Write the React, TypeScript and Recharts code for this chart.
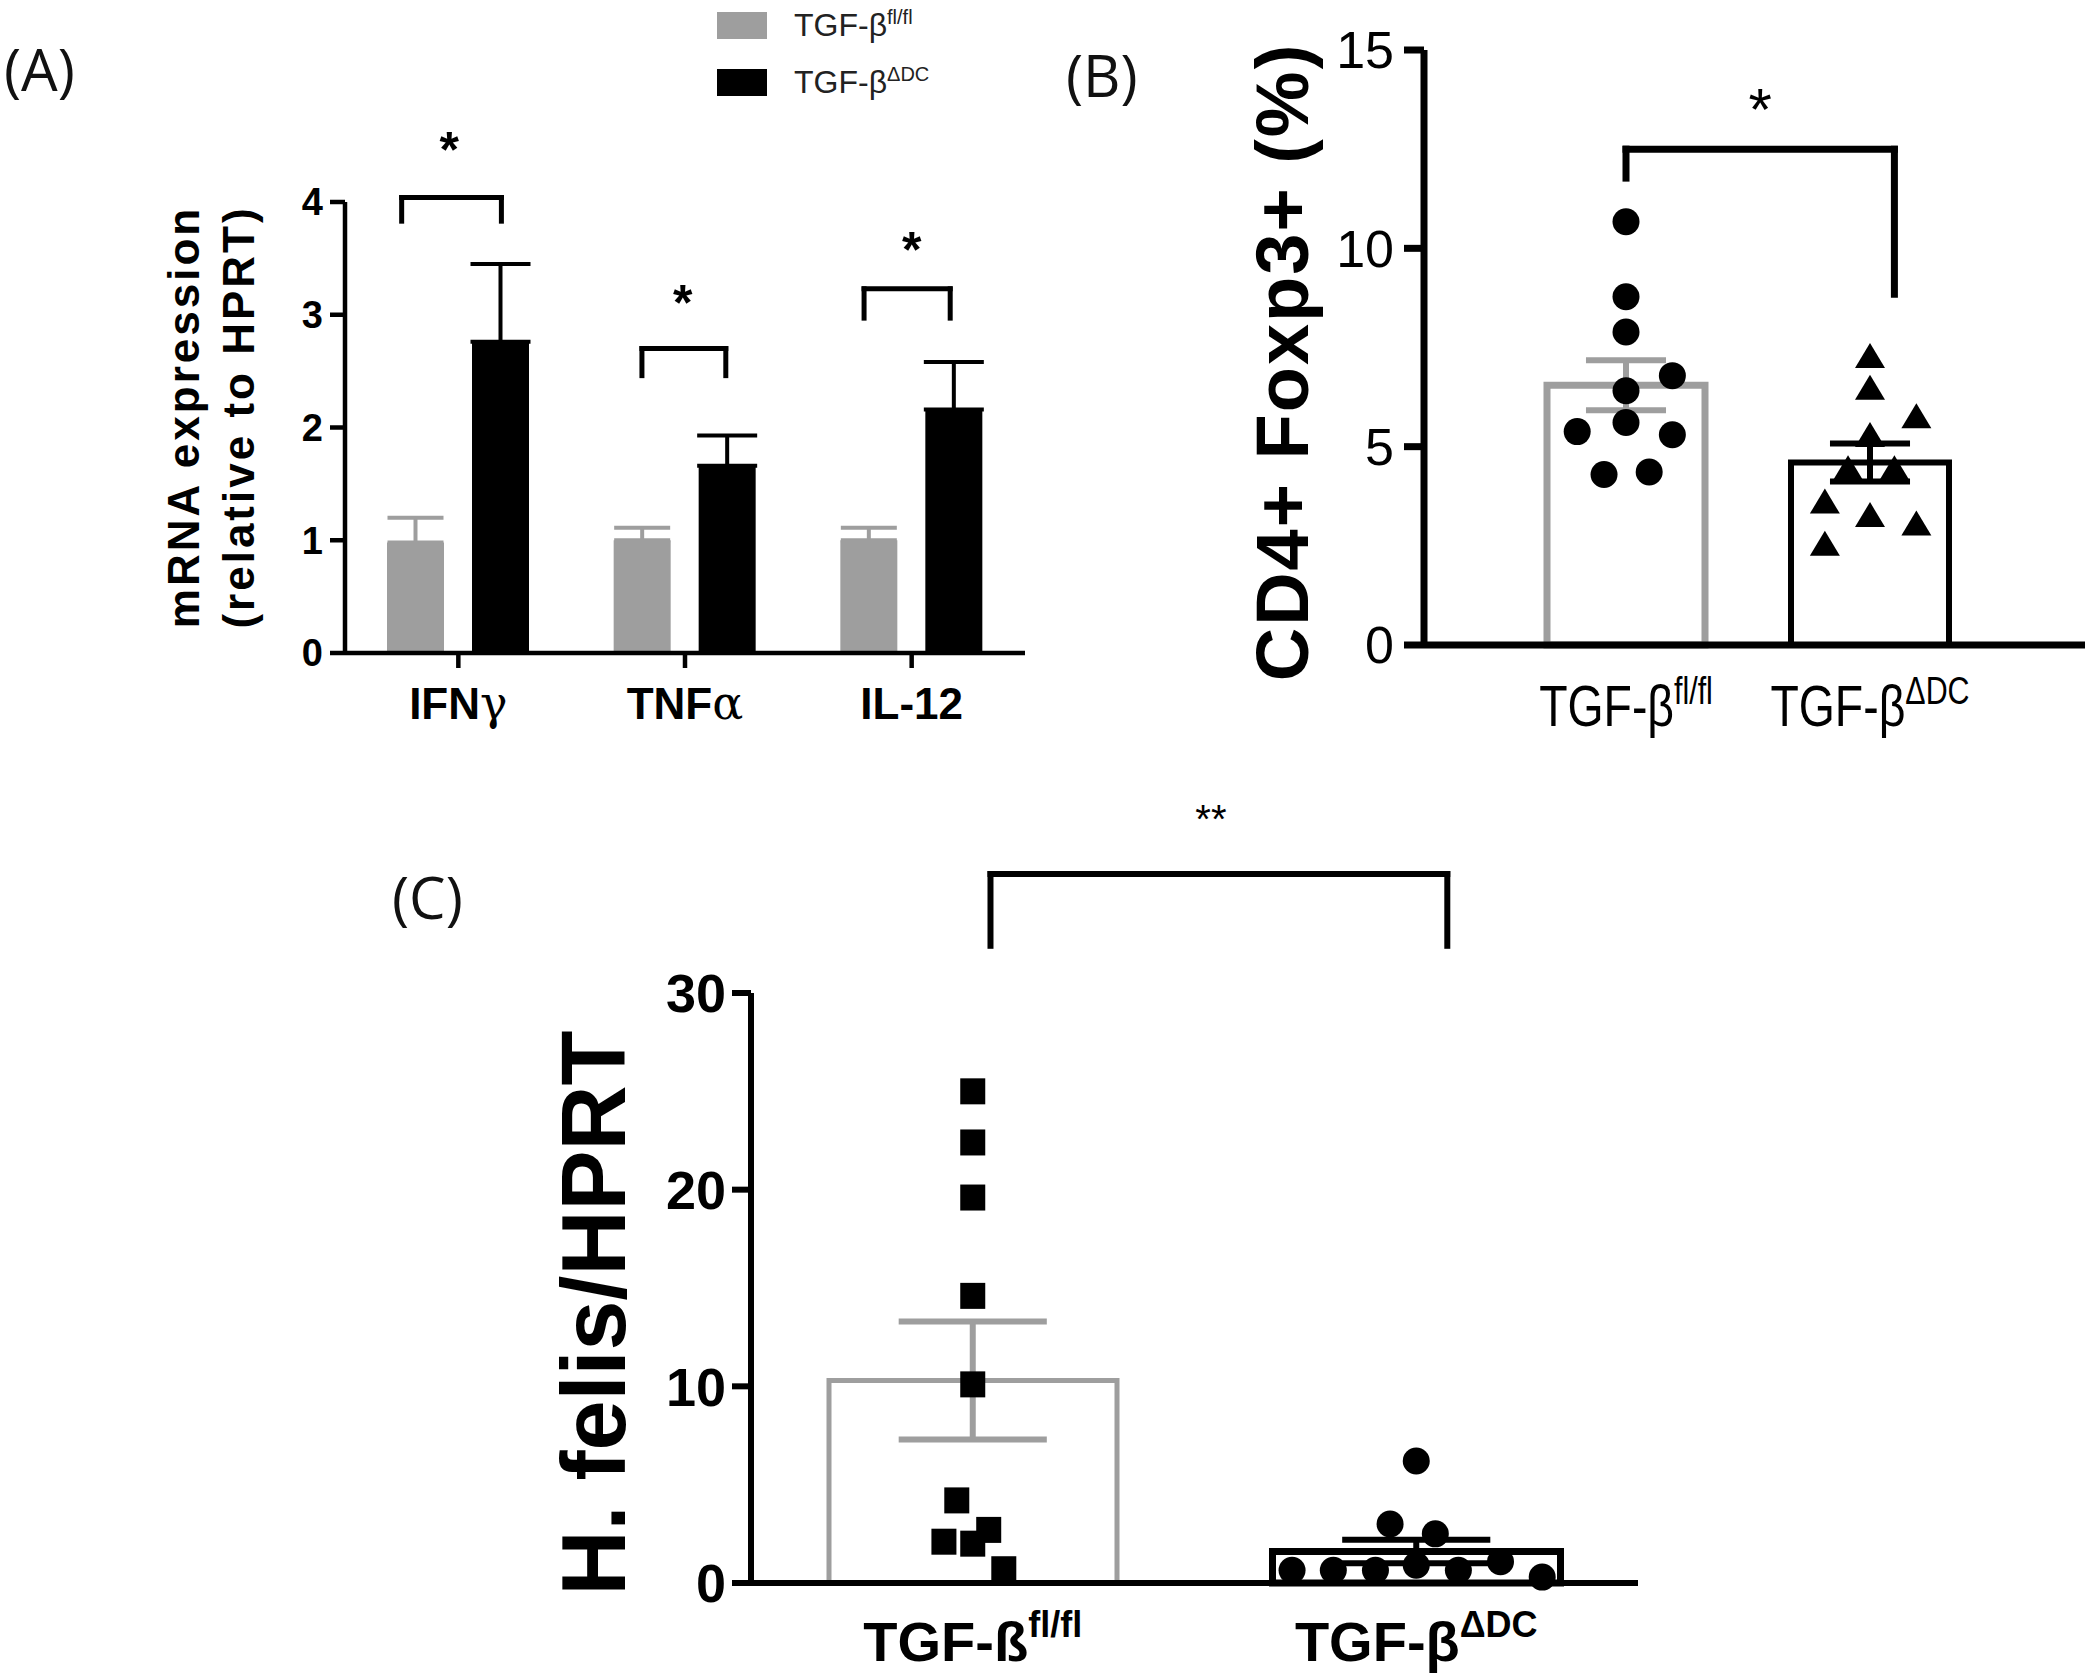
import React from 'react';
import {
  ComposedChart,
  Bar,
  Scatter,
  XAxis,
  YAxis,
  ErrorBar,
  Cell,
  ReferenceLine,
  ReferenceDot,
  Legend,
} from 'recharts';

const FONT = '"Liberation Sans", Arial, sans-serif';
const GRAY = '#9e9e9e';

// (A) mRNA expression relative to HPRT
const cytokines = ['IFNγ', 'TNFα', 'IL-12'];
const mrnaFlox = [0.98, 1.0, 1.0];
const mrnaFloxSem = [0.22, 0.11, 0.11];
const mrnaDC = [2.76, 1.66, 2.16];
const mrnaDCSem = [0.69, 0.27, 0.42];
const bracketTopA = [4.04, 2.7, 3.23];
const bracketLegA = [3.83, 2.46, 2.97];
const bracketLeftA = [-0.25, -0.19, -0.21];
const bracketRightA = [0.19, 0.18, 0.17];
const starYA = [4.56, 3.21, 3.68];
const starXA = [-0.04, -0.01, 0];

// groups
const groupMain = ['TGF-β', 'TGF-β'];
const groupSup = ['fl/fl', 'ΔDC'];
const felisMain = ['TGF-ß', 'TGF-β'];

// (B) CD4+ Foxp3+ (%)
const foxpMean = [6.55, 4.6];
const foxpSem = [0.63, 0.48];
const foxpFlox = [10.67, 8.78, 7.89, 6.79, 6.41, 5.38, 5.61, 5.3, 4.3, 4.36];
const foxpFloxJitter = [0, 0, 0, 0.19, 0, -0.2, 0, 0.19, -0.09, 0.095];
const foxpDC = [7.26, 6.46, 5.74, 5.27, 4.43, 4.43, 3.59, 3.25, 3.04, 2.53];
const foxpDCJitter = [0, 0, 0.19, 0, -0.09, 0.1, -0.185, 0, 0.19, -0.185];

// (C) H. felis/HPRT
const felisMean = [10.3, 1.6];
const felisSem = [3.0, 0.6];
const felisFlox = [25.0, 22.4, 19.6, 14.6, 10.1, 4.2, 2.1, 2.0, 2.7, 0.7];
const felisFloxJitter = [0, 0, 0, 0, 0, -0.036, -0.065, 0, 0.036, 0.07];
const felisDC = [6.2, 3.0, 2.5, 0.65, 0.65, 0.65, 0.9, 0.65, 1.08, 0.3];
const felisDCJitter = [0, -0.059, 0.043, -0.28, -0.187, -0.092, 0, 0.095, 0.19, 0.284];

const dataA = cytokines.map((name, i) => ({
  name,
  flox: mrnaFlox[i],
  floxErr: [0, mrnaFloxSem[i]],
  dc: mrnaDC[i],
  dcErr: [0, mrnaDCSem[i]],
}));

const dataB = groupMain.map((m, i) => ({ name: m + groupSup[i], mean: foxpMean[i] }));
const dataC = felisMain.map((m, i) => ({ name: m + groupSup[i], mean: felisMean[i] }));

const toPoints = (ys: number[], jit: number[], center: number) =>
  ys.map((y, i) => ({ x: center + jit[i], y }));

const Dot = (p: any) => <circle cx={p.cx} cy={p.cy} r={13.5} fill="#000" />;
const Tri = (p: any) => (
  <polygon
    points={`${p.cx},${p.cy - 14} ${p.cx - 15},${p.cy + 11} ${p.cx + 15},${p.cy + 11}`}
    fill="#000"
  />
);
const Square = (p: any) => (
  <rect x={p.cx - 12.5} y={p.cy - 13} width={25} height={26} fill="#000" />
);
const NoShape = () => <g />;

const star = (size: number, weight: string, text: string) => (p: any) => (
  <text
    x={p.cx}
    y={p.cy + size * 0.57}
    textAnchor="middle"
    fontFamily={FONT}
    fontSize={size}
    fontWeight={weight}
    fill="#000"
  >
    {text}
  </text>
);

// mean ± SEM whisker drawn on the hidden numeric axis
const whisker = (key: string, x: number, mean: number, sem: number, half: number, color: string, width: number) => {
  const line = { xAxisId: 'num', stroke: color, strokeWidth: width, ifOverflow: 'visible' as const };
  return (
    <React.Fragment key={key}>
      <ReferenceLine {...line} segment={[{ x, y: mean - sem }, { x, y: mean + sem }]} />
      <ReferenceLine {...line} segment={[{ x: x - half, y: mean + sem }, { x: x + half, y: mean + sem }]} />
      <ReferenceLine {...line} segment={[{ x: x - half, y: mean - sem }, { x: x + half, y: mean - sem }]} />
    </React.Fragment>
  );
};

const CytokineTick = (props: any) => {
  const { x, y, payload } = props;
  const label: string = payload.value;
  const greek = /[α-ω]$/.test(label) ? label.slice(-1) : '';
  const base = greek ? label.slice(0, -1) : label;
  return (
    <text x={x} y={y + 31} textAnchor="middle" fontFamily={FONT} fontSize={44} fontWeight="bold" fill="#000">
      {base}
      {greek && (
        <tspan fontFamily='"DejaVu Serif", serif' fontWeight="normal" fontSize={46}>
          {greek}
        </tspan>
      )}
    </text>
  );
};

const groupTick = (mains: string[], size: number, supSize: number, supDy: number, weight: string, squeeze: number) =>
  (props: any) => {
    const { x, y, index } = props;
    return (
      <g transform={`translate(${x} 0) scale(${squeeze} 1)`}>
        <text x={0} y={y + size * 0.71} textAnchor="middle" fontFamily={FONT} fontSize={size} fontWeight={weight} fill="#000">
          {mains[index]}
          <tspan fontSize={supSize} dy={supDy}>
            {groupSup[index]}
          </tspan>
        </text>
      </g>
    );
  };

const rotated = (cx: number, cy: number, text: string, size: number, spacing: number) => (
  <text
    transform={`rotate(-90 ${cx} ${cy})`}
    x={cx}
    y={cy}
    textAnchor="middle"
    dominantBaseline="central"
    fontFamily={FONT}
    fontSize={size}
    fontWeight="bold"
    letterSpacing={spacing}
    fill="#000"
  >
    {text}
  </text>
);

const legendA = () => (
  <div style={{ fontFamily: FONT, fontSize: 32, color: '#222' }}>
    {[GRAY, '#000'].map((c, i) => (
      <div key={i} style={{ display: 'flex', alignItems: 'center', height: 50, marginBottom: 7 }}>
        <span style={{ display: 'inline-block', width: 50, height: 27, background: c }} />
        <span style={{ marginLeft: 27, whiteSpace: 'nowrap' }}>
          {groupMain[i]}
          <span style={{ fontSize: 20, position: 'relative', top: -12 }}>{groupSup[i]}</span>
        </span>
      </div>
    ))}
  </div>
);

// invisible anchor points so the hidden numeric axis spans the category range
const anchorsA = [{ x: -0.5, y: 0 }, { x: 2.5, y: 0 }];
const anchorsBC = [{ x: 0.5, y: 0 }, { x: 2.5, y: 0 }];

const ChartA = () => {
  const axisX = 345;
  return (
    <ComposedChart
      width={1060}
      height={760}
      data={dataA}
      margin={{ top: 202, right: 35, bottom: 47, left: 285 }}
      barGap={28}
    >
      <XAxis
        xAxisId="cat"
        dataKey="name"
        height={60}
        interval={0}
        axisLine={{ stroke: '#000', strokeWidth: 4.5 }}
        tickLine={{ stroke: '#000', strokeWidth: 4.5 }}
        tickSize={15}
        tickMargin={20}
        tick={(p: any) => <CytokineTick {...p} />}
      />
      <XAxis xAxisId="num" dataKey="x" type="number" domain={[-0.5, 2.5]} hide allowDataOverflow />
      <YAxis
        width={60}
        domain={[0, 4]}
        ticks={[0, 1, 2, 3, 4]}
        axisLine={{ stroke: '#000', strokeWidth: 4.5 }}
        tickLine={{ stroke: '#000', strokeWidth: 4.5 }}
        tickSize={15}
        tickMargin={7}
        tick={{ fontFamily: FONT, fontSize: 38, fontWeight: 'bold', fill: '#000' }}
        label={{
          content: () => (
            <g>
              {rotated(axisX - 162, 417, 'mRNA expression', 44, 3)}
              {rotated(axisX - 107, 417, '(relative to HPRT)', 44, 3)}
            </g>
          ),
        }}
      />
      <Legend
        layout="vertical"
        align="center"
        verticalAlign="middle"
        wrapperStyle={{ left: 717, top: 0, width: 320 }}
        content={legendA}
      />
      <Bar xAxisId="cat" dataKey="flox" name="fl/fl" fill={GRAY} barSize={57} isAnimationActive={false}>
        <ErrorBar dataKey="floxErr" width={28} stroke={GRAY} strokeWidth={4} direction="y" />
      </Bar>
      <Bar xAxisId="cat" dataKey="dc" name="ΔDC" fill="#000" barSize={57} isAnimationActive={false}>
        <ErrorBar dataKey="dcErr" width={30} stroke="#000" strokeWidth={4} direction="y" />
      </Bar>
      <Scatter xAxisId="num" dataKey="y" data={anchorsA} shape={NoShape} legendType="none" isAnimationActive={false} />
      {cytokines.map((c, i) => {
        const l = i + bracketLeftA[i];
        const r = i + bracketRightA[i];
        const line = { xAxisId: 'num', stroke: '#000', strokeWidth: 5, ifOverflow: 'visible' as const, strokeLinecap: 'square' as const };
        return (
          <React.Fragment key={c}>
            <ReferenceLine {...line} segment={[{ x: l, y: bracketTopA[i] }, { x: r, y: bracketTopA[i] }]} />
            <ReferenceLine {...line} segment={[{ x: l, y: bracketLegA[i] }, { x: l, y: bracketTopA[i] }]} />
            <ReferenceLine {...line} segment={[{ x: r, y: bracketLegA[i] }, { x: r, y: bracketTopA[i] }]} />
            <ReferenceDot
              xAxisId="num"
              x={i + starXA[i]}
              y={starYA[i]}
              r={0}
              ifOverflow="visible"
              shape={star(50, 'bold', '*')}
            />
          </React.Fragment>
        );
      })}
    </ComposedChart>
  );
};

const ChartB = () => {
  const axisX = 374;
  const pad = { left: 80, right: 93 };
  const line = { xAxisId: 'num', stroke: '#000', strokeWidth: 7, ifOverflow: 'visible' as const, strokeLinecap: 'square' as const };
  return (
    <ComposedChart width={1050} height={760} data={dataB} margin={{ top: 50, right: 15, bottom: 35, left: 294 }}>
      <XAxis
        xAxisId="cat"
        dataKey="name"
        height={80}
        padding={pad}
        interval={0}
        axisLine={{ stroke: '#000', strokeWidth: 7 }}
        tickLine={false}
        tickSize={0}
        tickMargin={40}
        tick={groupTick(groupMain, 58, 38, -22, 'normal', 0.8)}
      />
      <XAxis xAxisId="num" dataKey="x" type="number" domain={[0.5, 2.5]} padding={pad} hide allowDataOverflow />
      <YAxis
        width={80}
        domain={[0, 15]}
        ticks={[0, 5, 10, 15]}
        axisLine={{ stroke: '#000', strokeWidth: 7 }}
        tickLine={{ stroke: '#000', strokeWidth: 7 }}
        tickSize={20}
        tickMargin={10}
        tick={{ fontFamily: FONT, fontSize: 52, fill: '#000' }}
        label={{ content: () => rotated(axisX - 142, 362, 'CD4+ Foxp3+ (%)', 74, 2) }}
      />
      <Bar xAxisId="cat" dataKey="mean" fill="#fff" barSize={158} isAnimationActive={false}>
        {dataB.map((d, i) => (
          <Cell key={d.name} stroke={i === 0 ? GRAY : '#000'} strokeWidth={i === 0 ? 7 : 6} />
        ))}
      </Bar>
      <Scatter xAxisId="num" dataKey="y" data={anchorsBC} shape={NoShape} isAnimationActive={false} />
      <Scatter xAxisId="num" dataKey="y" data={toPoints(foxpFlox, foxpFloxJitter, 1)} shape={Dot} isAnimationActive={false} />
      <Scatter xAxisId="num" dataKey="y" data={toPoints(foxpDC, foxpDCJitter, 2)} shape={Tri} isAnimationActive={false} />
      {foxpMean.map((m, i) => whisker(`w${i}`, i + 1, m, foxpSem[i], 0.164, i === 0 ? GRAY : '#000', 6))}
      <ReferenceLine {...line} segment={[{ x: 1, y: 12.5 }, { x: 2.1, y: 12.5 }]} />
      <ReferenceLine {...line} segment={[{ x: 1, y: 11.77 }, { x: 1, y: 12.5 }]} />
      <ReferenceLine {...line} segment={[{ x: 2.1, y: 8.84 }, { x: 2.1, y: 12.5 }]} />
      <ReferenceDot xAxisId="num" x={1.55} y={13.84} r={0} ifOverflow="visible" shape={star(60, 'normal', '*')} />
    </ComposedChart>
  );
};

const ChartC = () => {
  const axisX = 751;
  const line = { xAxisId: 'num', stroke: '#000', strokeWidth: 6, ifOverflow: 'visible' as const, strokeLinecap: 'square' as const };
  return (
    <ComposedChart width={1700} height={920} data={dataC} margin={{ top: 233, right: 62, bottom: 17, left: 671 }}>
      <XAxis
        xAxisId="cat"
        dataKey="name"
        height={80}
        interval={0}
        axisLine={{ stroke: '#000', strokeWidth: 6 }}
        tickLine={false}
        tickSize={0}
        tickMargin={38}
        tick={groupTick(felisMain, 56, 36, -24, 'bold', 1)}
      />
      <XAxis xAxisId="num" dataKey="x" type="number" domain={[0.5, 2.5]} hide allowDataOverflow />
      <YAxis
        width={80}
        domain={[0, 30]}
        ticks={[0, 10, 20, 30]}
        axisLine={{ stroke: '#000', strokeWidth: 6 }}
        tickLine={{ stroke: '#000', strokeWidth: 6 }}
        tickSize={19}
        tickMargin={6}
        tick={{ fontFamily: FONT, fontSize: 54, fontWeight: 'bold', fill: '#000' }}
        label={{ content: () => rotated(axisX - 157, 553, 'H. felis/HPRT', 90, 0) }}
      />
      <Bar xAxisId="cat" dataKey="mean" fill="#fff" barSize={288} isAnimationActive={false}>
        {dataC.map((d, i) => (
          <Cell key={d.name} stroke={i === 0 ? GRAY : '#000'} strokeWidth={i === 0 ? 5 : 7} />
        ))}
      </Bar>
      <Scatter xAxisId="num" dataKey="y" data={anchorsBC} shape={NoShape} isAnimationActive={false} />
      <Scatter xAxisId="num" dataKey="y" data={toPoints(felisFlox, felisFloxJitter, 1)} shape={Square} isAnimationActive={false} />
      <Scatter xAxisId="num" dataKey="y" data={toPoints(felisDC, felisDCJitter, 2)} shape={Dot} isAnimationActive={false} />
      {felisMean.map((m, i) => whisker(`w${i}`, i + 1, m, felisSem[i], 0.167, i === 0 ? GRAY : '#000', 6))}
      <ReferenceLine {...line} segment={[{ x: 1.04, y: 36.05 }, { x: 2.07, y: 36.05 }]} />
      <ReferenceLine {...line} segment={[{ x: 1.04, y: 32.4 }, { x: 1.04, y: 36.05 }]} />
      <ReferenceLine {...line} segment={[{ x: 2.07, y: 32.4 }, { x: 2.07, y: 36.05 }]} />
      <ReferenceDot xAxisId="num" x={1.537} y={39.3} r={0} ifOverflow="visible" shape={star(40, 'normal', '**')} />
    </ComposedChart>
  );
};

const PanelLabel = ({ text, left, top }: { text: string; left: number; top: number }) => (
  <div
    style={{
      position: 'absolute',
      left,
      top,
      fontFamily: '"Open Sans", "Noto Sans", sans-serif',
      fontSize: 58,
      lineHeight: '58px',
      color: '#111',
    }}
  >
    {text}
  </div>
);

export default function App() {
  return (
    <div
      style={{
        position: 'absolute',
        left: 0,
        top: 0,
        width: 2100,
        height: 1680,
        background: '#fff',
        overflow: 'hidden',
      }}
    >
      <div style={{ position: 'absolute', left: 0, top: 0 }}>
        <ChartA />
      </div>
      <div style={{ position: 'absolute', left: 1050, top: 0 }}>
        <ChartB />
      </div>
      <div style={{ position: 'absolute', left: 0, top: 760 }}>
        <ChartC />
      </div>
      <PanelLabel text="(A)" left={4} top={40} />
      <PanelLabel text="(B)" left={1066} top={46} />
      <PanelLabel text="(C)" left={392} top={868} />
    </div>
  );
}
